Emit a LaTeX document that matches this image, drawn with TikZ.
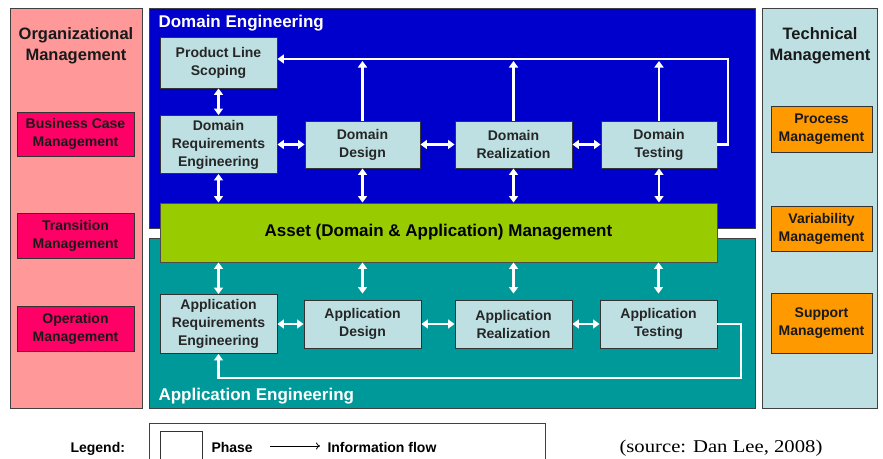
\documentclass[tikz,border=0pt]{standalone}
\usepackage{fontspec}
\setmainfont{Liberation Sans}
\newfontfamily\srcfont[FakeStretch=1.15]{Liberation Serif}
\usetikzlibrary{arrows.meta, positioning, calc}
\definecolor{orgpink}{HTML}{FF9999}
\definecolor{orgbox}{HTML}{FF0066}
\definecolor{domblue}{HTML}{0000CC}
\definecolor{appteal}{HTML}{009999}
\definecolor{assetgreen}{HTML}{99CC00}
\definecolor{phasecol}{HTML}{BEE0E3}
\definecolor{techorange}{HTML}{FF9900}
\definecolor{panelline}{HTML}{404040}

\begin{document}
\begin{tikzpicture}[x=1pt, y=-1pt,
  panel/.style={draw=panelline, line width=1pt},
  phase/.style={draw=black!80, fill=phasecol, line width=0.9pt, inner sep=0pt,
    align=center, font=\fontsize{14}{18}\selectfont\bfseries, text=black!85},
  mgmtbox/.style={draw=black!80, line width=0.9pt, inner sep=0pt, align=center,
    font=\fontsize{14}{18}\selectfont\bfseries, text=black!90},
  headtext/.style={align=center, font=\fontsize{16.5}{21}\selectfont\bfseries, text=black!90},
  areatext/.style={anchor=base west, font=\fontsize{17}{20}\selectfont\bfseries, text=white},
  flow/.style={white, line width=2.6pt, line join=miter,
    {Triangle[width=9pt,length=6.5pt]}-{Triangle[width=9pt,length=6.5pt]}},
  flowend/.style={white, line width=2.6pt, line join=miter, -{Triangle[width=9pt,length=6.5pt]}},
  legendtext/.style={anchor=base west, font=\fontsize{14}{17}\selectfont\bfseries}]

\clip (0,0) rectangle (883,458);
\fill[white] (0,0) rectangle (883,458);

% the four panels
\fill[orgpink] (10,8) rectangle (142,408);
\draw[panel] (10,8) rectangle (142,408);
\fill[domblue] (149,8) rectangle (755,228);
\draw[panel] (149,8) rectangle (755,228);
\fill[appteal] (149,238) rectangle (755,408);
\draw[panel] (149,238) rectangle (755,408);
\fill[phasecol] (762,8) rectangle (877,408);
\draw[panel] (762,8) rectangle (877,408);

\node[headtext] (orghead) at (76,46) {Organizational\\Management};
\node[headtext] (techhead) at (820,46) {Technical\\Management};
\node[areatext] (domhead) at (155,27) {Domain Engineering};
\node[areatext] (apphead) at (155,400) {Application Engineering};

% organizational / technical management
\node[mgmtbox, fill=orgbox, minimum width=117, minimum height=44] (bcm) at (75.5,134) {Business Case\\Management};
\node[mgmtbox, fill=orgbox, minimum width=117, minimum height=45] (trm) at (75.5,235.5) {Transition\\Management};
\node[mgmtbox, fill=orgbox, minimum width=117, minimum height=45] (opm) at (75.5,328.5) {Operation\\Management};
\node[mgmtbox, fill=techorange, minimum width=101, minimum height=46] (prm) at (821.5,129) {Process\\Management};
\node[mgmtbox, fill=techorange, minimum width=101, minimum height=45] (vam) at (821.5,228.5) {Variability\\Management};
\node[mgmtbox, fill=techorange, minimum width=101, minimum height=60] (sum) at (821.5,323) {Support\\Management};

% domain phases
\node[phase, minimum width=117, minimum height=51] (pls) at (218.5,62.5) {Product Line\\Scoping};
\node[phase, minimum width=117, minimum height=58] (dreq) at (218.5,144.5) {Domain\\Requirements\\Engineering};
\node[phase, minimum width=115, minimum height=47] (ddes) at (362.5,144.5) {Domain\\Design};
\node[phase, minimum width=117, minimum height=47] (dreal) at (513.5,144.5) {Domain\\Realization};
\node[phase, minimum width=116, minimum height=47] (dtest) at (659,144.5) {Domain\\Testing};

% asset management
\node[draw=black!70, fill=assetgreen, line width=0.9pt, minimum width=557, minimum height=59,
  font=\fontsize{17}{20}\selectfont\bfseries] (asset) at (438.5,232.5) {Asset (Domain \& Application) Management};

% application phases
\node[phase, minimum width=117, minimum height=59] (areq) at (218.5,324) {Application\\Requirements\\Engineering};
\node[phase, minimum width=117, minimum height=48] (ades) at (362.5,324) {Application\\Design};
\node[phase, minimum width=117, minimum height=48] (areal) at (513.5,324) {Application\\Realization};
\node[phase, minimum width=117, minimum height=48] (atest) at (658.5,324) {Application\\Testing};

\coordinate (dtop) at (728,59);
\coordinate (abot) at (741,378);

% information flow, domain side
\draw[flow] (pls) -- (dreq);
\draw[flow] (dreq) -- (ddes);
\draw[flow] (ddes) -- (dreal);
\draw[flow] (dreal) -- (dtest);
\foreach \ph in {dreq, ddes, dreal, dtest}
  \draw[flow] (\ph.south) -- (\ph.south |- asset.north);
\foreach \ph in {ddes, dreal, dtest}
  \draw[flowend, shorten >=2pt] (\ph.north) -- (\ph.north |- dtop);
\draw[flowend] (dtest.east) -- (dtest.east -| dtop) -- (dtop) -- (pls.east |- dtop);

% information flow, application side
\draw[flow] (areq.east |- ades) -- (ades.west);
\draw[flow] (ades) -- (areal);
\draw[flow] (areal) -- (atest);
\draw[flow] (asset.south -| areq) -- (areq.north);
\foreach \ph in {ades, areal, atest}
  \draw[flow, shorten >=6pt] (asset.south -| \ph) -- (\ph.north);
\draw[flowend] (atest.east) -- (atest.east -| abot) -- (abot) -- (areq.south |- abot) -- (areq.south);

% legend
\draw[black!75, line width=1pt] (149,423) rectangle (545,480);
\node[legendtext] (lghead) at (67,452) {Legend:};
\node[draw=black!80, line width=0.9pt, minimum width=42, minimum height=45, anchor=north west] (lgphase) at (160,431) {};
\node[legendtext] (lgphasetext) at (208,452) {Phase};
\coordinate (lgfrom) at (270,446);
\node[legendtext] (lgflow) at (324,452) {Information flow};
\draw[line width=0.8pt, shorten >=4pt, -{To[length=4pt,width=7pt]}] (lgfrom) -- (lgflow.west |- lgfrom);
\node[anchor=base west, font=\srcfont\fontsize{18}{20}\selectfont] (src) at (616,452) {(source: Dan Lee, 2008)};
\end{tikzpicture}
\end{document}
